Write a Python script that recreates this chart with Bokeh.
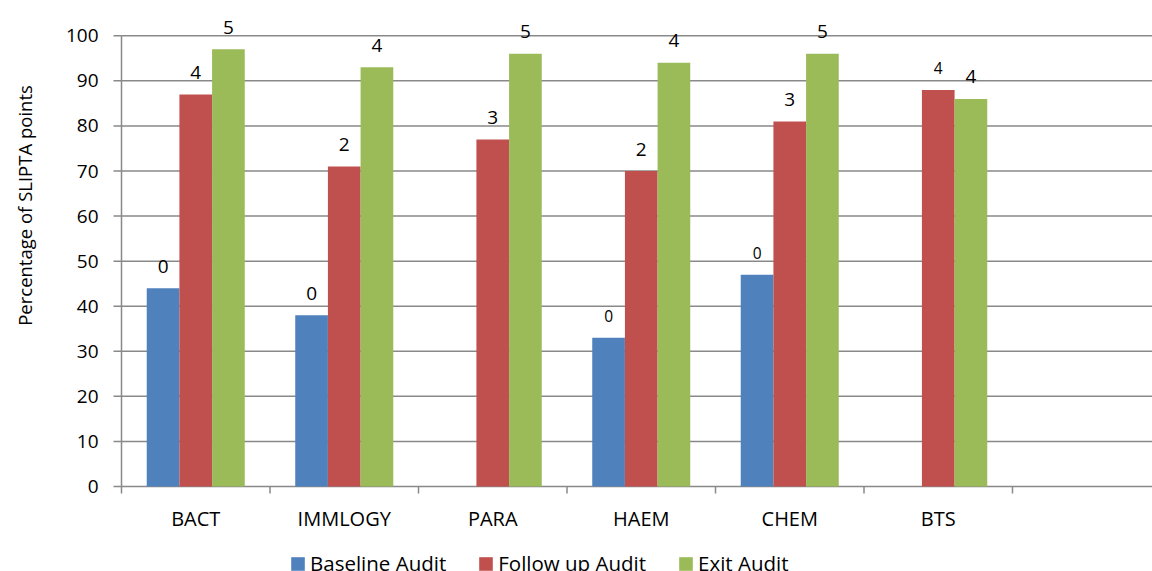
import math

from bokeh.plotting import figure
from bokeh.models import Range1d, ColumnDataSource, Legend, LegendItem
from bokeh.embed import file_html
from bokeh.resources import INLINE
from bokeh.core.properties import value

# --- data ---------------------------------------------------------------
categories = ["BACT", "IMMLOGY", "PARA", "HAEM", "CHEM", "BTS"]
series_names = ["Baseline Audit", "Follow up Audit", "Exit Audit"]

baseline = [44, 38, None, 33, 47, None]
follow_up = [87, 71, 77, 70, 81, 88]
exit_audit = [97, 93, 96, 94, 96, 86]

# star level reached at each audit
baseline_stars = [0, 0, None, 0, 0, None]
follow_up_stars = [4, 2, 3, 2, 3, 4]
exit_stars = [5, 4, 5, 4, 5, 4]

y_ticks = list(range(0, 101, 10))
y_title = "Percentage of SLIPTA points"

# --- styling --------------------------------------------------------------
FONT = "Open Sans"
GREY = "#898989"
colors = ["#4F81BD", "#C0504D", "#9BBB59"]
offsets = [-0.22, 0.0, 0.22]
bar_width = 0.22
PX_PER_UNIT = 4.507      # vertical scale (pixels per percentage point)
PX_PER_CAT = 148.5       # horizontal scale (pixels per category slot)
AXIS_LEFT_PX = 121       # where the value axis sits on the canvas
ZERO_PX = 486            # where the zero line sits on the canvas
W, H = 1152, 571
# label sizes per series (a few labels are set in a smaller size)
label_sizes = [
    ["19px", "19px", "19px", "15.5px", "15.5px", "19px"],
    ["19px", "19px", "19px", "19px", "19px", "15.5px"],
    ["19px"] * 6,
]

# the plotting frame covers the whole canvas; axes are drawn on it
x_axis_pos = -0.5
x_start = x_axis_pos - AXIS_LEFT_PX / PX_PER_CAT
x_end = x_axis_pos + (W - AXIS_LEFT_PX) / PX_PER_CAT
y_start = -(H - ZERO_PX) / PX_PER_UNIT
y_end = ZERO_PX / PX_PER_UNIT

p = figure(
    width=W, height=H,
    x_range=Range1d(x_start, x_end), y_range=Range1d(y_start, y_end),
    output_backend="svg", toolbar_location=None,
    min_border=0,
)
p.outline_line_color = None
p.background_fill_color = "white"
p.border_fill_color = "white"
p.xaxis.visible = False
p.yaxis.visible = False
p.grid.visible = False

# horizontal grid lines (the 0 line is also the category axis line)
n_t = len(y_ticks)
p.segment(x0=[x_axis_pos] * n_t, y0=y_ticks, x1=[x_end] * n_t, y1=y_ticks,
          line_color=GREY, line_width=1.5)

# value axis: line, outward ticks, labels and title
p.segment(x0=[x_axis_pos], y0=[y_ticks[0]], x1=[x_axis_pos], y1=[y_ticks[-1]],
          line_color=GREY, line_width=1.5)
p.segment(x0=[x_axis_pos - 8 / PX_PER_CAT] * n_t, y0=y_ticks,
          x1=[x_axis_pos] * n_t, y1=y_ticks,
          line_color=GREY, line_width=1.5)
p.text(x=[x_axis_pos] * n_t, y=y_ticks, text=[str(t) for t in y_ticks],
       x_offset=-23, text_font=value(FONT), text_font_size="19px",
       text_color="black", text_align="right", text_baseline="middle")
p.text(x=[x_start], y=[(ZERO_PX - 205) / PX_PER_UNIT], text=[y_title],
       x_offset=24, angle=math.pi / 2,
       text_font=value(FONT), text_font_size="18.5px", text_color="black",
       text_align="center", text_baseline="middle")

# category axis: tick marks at the slot boundaries, names at the centres
n_slots = len(categories) + 1
bounds_x = [i - 0.5 for i in range(n_slots + 1)]
p.segment(x0=bounds_x, y0=[0] * len(bounds_x), x1=bounds_x,
          y1=[-7 / PX_PER_UNIT] * len(bounds_x),
          line_color=GREY, line_width=1.5)
p.text(x=list(range(len(categories))), y=[0] * len(categories), text=categories,
       text_font=value(FONT), text_font_size="20px", text_color="black",
       text_align="center", text_baseline="alphabetic", y_offset=32)

# bars and star labels
renderers = []
for vals, stars, off, col, sizes in zip(
    [baseline, follow_up, exit_audit],
    [baseline_stars, follow_up_stars, exit_stars],
    offsets, colors, label_sizes,
):
    idx = [i for i, v in enumerate(vals) if v is not None]
    src = ColumnDataSource(dict(
        x=[i + off for i in idx],
        top=[vals[i] for i in idx],
        label=[str(stars[i]) for i in idx],
        size=[sizes[i] for i in idx],
    ))
    r = p.vbar(x="x", top="top", width=bar_width, bottom=0, source=src,
               fill_color=col, line_color=None)
    renderers.append(r)
    p.text(x="x", y="top", text="label", source=src,
           text_font=value(FONT), text_font_size="size", text_color="black",
           text_align="center", text_baseline="alphabetic", y_offset=-22)

# legend row underneath the category names
legend = Legend(
    items=[LegendItem(label=n, renderers=[r]) for n, r in zip(series_names, renderers)],
    orientation="horizontal",
    location=(289, -6),
    border_line_color=None,
    background_fill_alpha=0,
    padding=0, margin=0,
    spacing=31,
    glyph_width=17, glyph_height=17,
    label_standoff=4,
    label_text_font=FONT,
    label_text_font_size="20.5px",
    label_text_color="black",
)
p.add_layout(legend)

open("out.html", "w").write(file_html(p, INLINE))
